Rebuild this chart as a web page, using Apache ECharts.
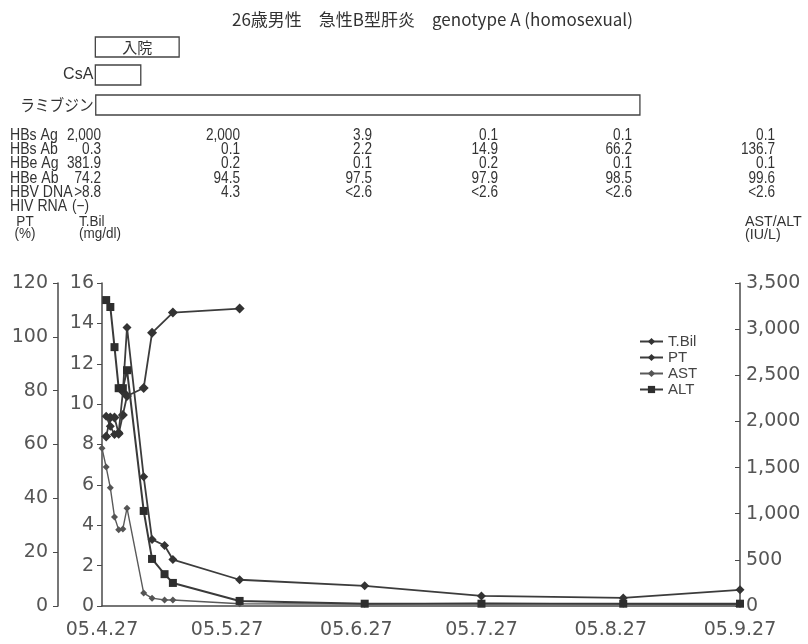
<!DOCTYPE html>
<html><head><meta charset="utf-8">
<script src="https://cdn.jsdelivr.net/npm/echarts@6/dist/echarts.min.js"></script>
<style>html,body{margin:0;padding:0;background:#fff}#c{width:808px;height:644px}</style>
</head><body><div id="c"></div>
<script>
// ---------- data ----------
const titleText = '26歳男性　急性B型肝炎　genotype A (homosexual)';
const xTickDays = [0, 30, 61, 91, 122, 153];           // days since 2005-04-27
const xTickLabels = ['05.4.27', '05.5.27', '05.6.27', '05.7.27', '05.8.27', '05.9.27'];

const tbilDays   = [1, 2, 3, 4, 5, 6, 10, 12, 15, 17, 33, 63, 91, 125, 153];
const tbilValues = [9.4, 8.9, 8.5, 8.6, 10.6, 13.8, 6.4, 3.3, 3.0, 2.3, 1.3, 1.0, 0.5, 0.4, 0.8];

const ptDays   = [1, 2, 3, 4, 5, 6, 10, 12, 17, 33];
const ptValues = [63, 70, 70, 64, 71, 78, 81, 101.5, 109, 110.5];

const astDays   = [0, 1, 2, 3, 4, 5, 6, 10, 12, 15, 17, 33, 63, 91, 125, 153];
const astValues = [1710, 1505, 1280, 965, 825, 835, 1060, 140, 85, 65, 65, 25, 20, 30, 20, 15];

const altDays   = [1, 2, 3, 4, 5, 6, 10, 12, 15, 17, 33, 63, 91, 125, 153];
const altValues = [3315, 3240, 2805, 2360, 2360, 2555, 1030, 510, 345, 250, 55, 25, 25, 25, 25];

const tableRowLabels = ['HBs Ag', 'HBs Ab', 'HBe Ag', 'HBe Ab', 'HBV DNA', 'HIV RNA'];
const tableCol1 = ['2,000', '0.3', '381.9', '74.2', '>8.8', '(−)'];
const tableCol2 = ['2,000', '0.1', '0.2', '94.5', '4.3', ''];
const tableCol3 = ['3.9', '2.2', '0.1', '97.5', '<2.6', ''];
const tableCol4 = ['0.1', '14.9', '0.2', '97.9', '<2.6', ''];
const tableCol5 = ['0.1', '66.2', '0.1', '98.5', '<2.6', ''];
const tableCol6 = ['0.1', '136.7', '0.1', '99.6', '<2.6', ''];

const periodLabels = ['入院', 'CsA', 'ラミブジン'];
const periodStart  = [-1.6, -1.6, -1.5];
const periodEnd    = [18.5, 9.3, 129];

const legendNames = ['T.Bil', 'PT', 'AST', 'ALT'];

// ---------- chart ----------
const pair = (d, v) => d.map((x, i) => [x, v[i]]);
const chart = echarts.init(document.getElementById('c'), null, {renderer: 'canvas'});
const axisFont = {fontFamily: 'DejaVu Sans', fontSize: 19, color: '#555'};
const lineCol = '#4a4a4a';

const option = {
  animation: false,
  backgroundColor: '#ffffff',
  grid: {left: 102, right: 68, top: 283, bottom: 38, containLabel: false},
  legend: {
    data: legendNames, orient: 'vertical', left: 639, top: 334,
    itemWidth: 23, itemHeight: 9, itemGap: 1, padding: 0,
    textStyle: {fontFamily: 'Liberation Sans', fontSize: 15, color: '#444', lineHeight: 15}
  },
  xAxis: {
    type: 'value', min: 0, max: 153,
    axisLine: {lineStyle: {color: lineCol, width: 1.5}},
    axisTick: {show: false},
    splitLine: {show: false},
    axisLabel: Object.assign({
      customValues: xTickDays, margin: 15,
      formatter: v => xTickLabels[xTickDays.indexOf(v)] || ''
    }, axisFont)
  },
  yAxis: [
    { type: 'value', position: 'left', offset: 0, min: 0, max: 16, interval: 2,
      axisLine: {show: true, lineStyle: {color: lineCol, width: 1.5}},
      axisTick: {show: true, length: 5, lineStyle: {color: lineCol}},
      splitLine: {show: false},
      axisLabel: Object.assign({margin: 8}, axisFont) },
    { type: 'value', position: 'left', offset: 44, min: 0, max: 120, interval: 20,
      axisLine: {show: true, lineStyle: {color: lineCol, width: 1.5}},
      axisTick: {show: true, length: 5, lineStyle: {color: lineCol}},
      splitLine: {show: false},
      axisLabel: Object.assign({margin: 10}, axisFont) },
    { type: 'value', position: 'right', min: 0, max: 3500, interval: 500,
      axisLine: {show: true, lineStyle: {color: lineCol, width: 1.5}},
      axisTick: {show: true, inside: true, length: 5, lineStyle: {color: lineCol}},
      splitLine: {show: false},
      axisLabel: Object.assign({margin: 6, formatter: v => v.toLocaleString('en-US')}, axisFont) }
  ],
  series: [
    { name: 'T.Bil', type: 'line', yAxisIndex: 0, data: pair(tbilDays, tbilValues),
      symbol: 'diamond', symbolSize: 9,
      itemStyle: {color: '#333'}, lineStyle: {color: '#3c3c3c', width: 1.8}, z: 4 },
    { name: 'PT', type: 'line', yAxisIndex: 1, data: pair(ptDays, ptValues),
      symbol: 'diamond', symbolSize: 10,
      itemStyle: {color: '#333'}, lineStyle: {color: '#3c3c3c', width: 1.8}, z: 3 },
    { name: 'AST', type: 'line', yAxisIndex: 2, data: pair(astDays, astValues),
      symbol: 'diamond', symbolSize: 7,
      itemStyle: {color: '#555'}, lineStyle: {color: '#5a5a5a', width: 1.4}, z: 2 },
    { name: 'ALT', type: 'line', yAxisIndex: 2, data: pair(altDays, altValues),
      symbol: 'rect', symbolSize: 8,
      itemStyle: {color: '#2e2e2e'}, lineStyle: {color: '#3a3a3a', width: 2}, z: 5 }
  ]
};
chart.setOption(option);

// ---------- annotations (title, treatment bars, table, axis names) ----------
const txt = '#333';
const g = [];
g.push({type: 'text', x: 232, y: 20, scaleX: 1.0,
  style: {text: titleText, fontFamily: 'Noto Sans CJK JP', fontSize: 17, fill: txt, verticalAlign: 'middle', align: 'left'}});

const boxY = [37, 65, 95], boxH = [20, 20, 20];
periodLabels.forEach((lab, i) => {
  const x0 = chart.convertToPixel({xAxisIndex: 0}, periodStart[i]);
  const x1 = chart.convertToPixel({xAxisIndex: 0}, periodEnd[i]);
  g.push({type: 'rect', shape: {x: x0, y: boxY[i], width: x1 - x0, height: boxH[i]},
    style: {fill: 'none', stroke: '#444', lineWidth: 1.3}});
  if (i === 0) {
    g.push({type: 'text', x: (x0 + x1) / 2, y: boxY[i] + boxH[i] / 2,
      style: {text: lab, fontFamily: 'Noto Sans CJK JP', fontSize: 15, fill: txt, align: 'center', verticalAlign: 'middle'}});
  } else {
    g.push({type: 'text', x: x0 - 2, y: boxY[i] + boxH[i] / 2, scaleX: i === 2 ? 0.92 : 1,
      style: {text: lab, fontFamily: i === 2 ? 'Noto Sans CJK JP' : 'Liberation Sans', fontSize: 16, fill: txt, align: 'right', verticalAlign: 'middle'}});
  }
});

const rowY0 = 135.5, rowDY = 14.2;
const tableFont = {fontFamily: 'Liberation Sans', fontSize: 16, fill: txt, verticalAlign: 'middle'};
tableRowLabels.forEach((lab, r) => {
  g.push({type: 'text', x: 10, y: rowY0 + r * rowDY, scaleX: 0.88,
    style: Object.assign({text: lab, align: 'left'}, tableFont)});
});
const cols = [tableCol1, tableCol2, tableCol3, tableCol4, tableCol5, tableCol6];
const colRight = [101, 240, 372, 498, 632, 775];
cols.forEach((col, c) => {
  col.forEach((v, r) => {
    if (!v) return;
    const xr = (c === 0 && r === 5) ? 89 : colRight[c];
    g.push({type: 'text', x: xr, y: rowY0 + r * rowDY, scaleX: 0.85,
      style: Object.assign({text: v, align: 'right'}, tableFont)});
  });
});

const nameFont = {fontFamily: 'Liberation Sans', fontSize: 15, fill: txt, verticalAlign: 'middle'};
g.push({type: 'text', x: 25, y: 222, scaleX: 0.9, style: Object.assign({text: 'PT', align: 'center'}, nameFont)});
g.push({type: 'text', x: 25, y: 234, scaleX: 0.9, style: Object.assign({text: '(%)', align: 'center'}, nameFont)});
g.push({type: 'text', x: 79, y: 222, scaleX: 0.9, style: Object.assign({text: 'T.Bil', align: 'left'}, nameFont)});
g.push({type: 'text', x: 79, y: 234, scaleX: 0.9, style: Object.assign({text: '(mg/dl)', align: 'left'}, nameFont)});
g.push({type: 'text', x: 745, y: 222, scaleX: 0.95, style: Object.assign({text: 'AST/ALT', align: 'left'}, nameFont)});
g.push({type: 'text', x: 745, y: 235, scaleX: 0.95, style: Object.assign({text: '(IU/L)', align: 'left'}, nameFont)});

chart.setOption({graphic: g});
</script></body></html>
